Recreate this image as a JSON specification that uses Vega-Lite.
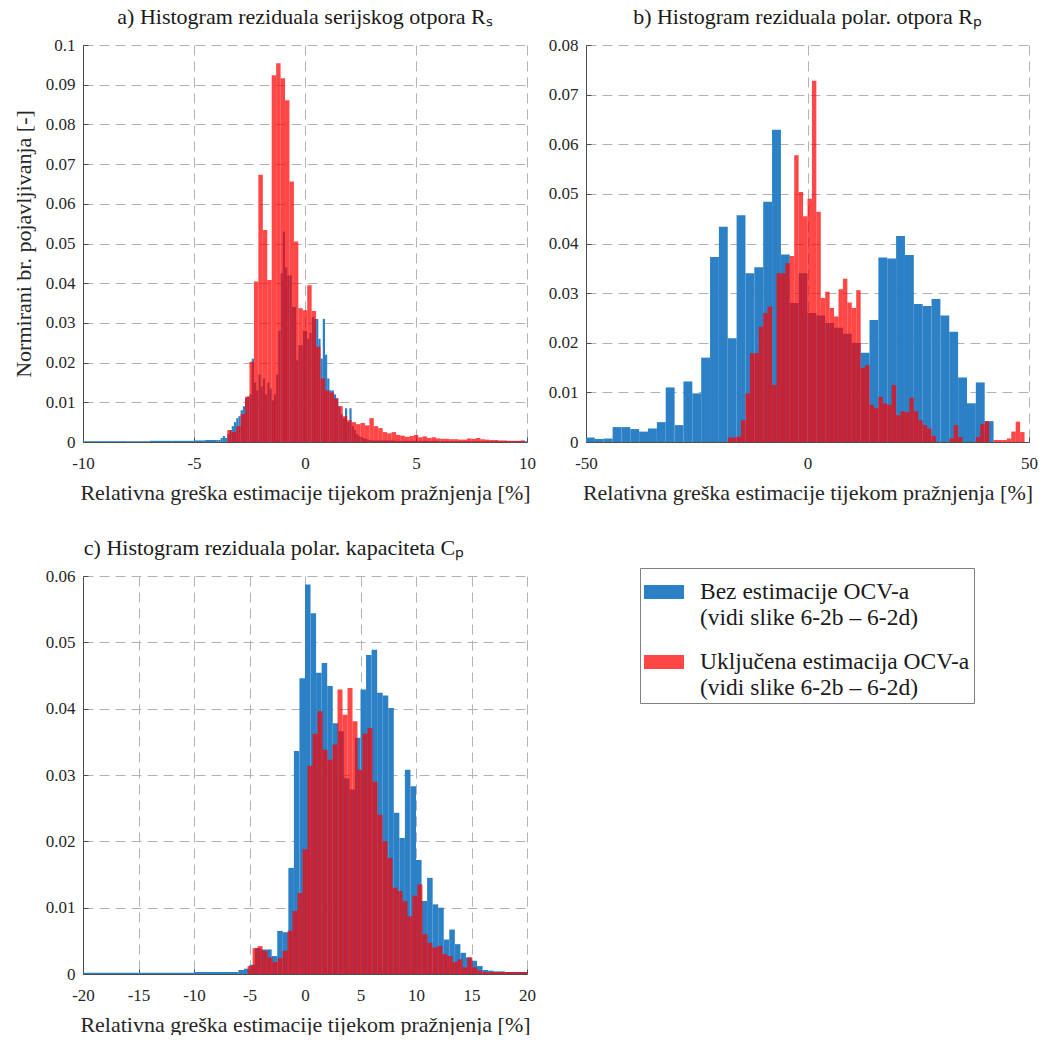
{
"$schema": "https://vega.github.io/schema/vega-lite/v6.json",
"background": "white",
"padding": {"left": 12, "top": 6, "right": 0, "bottom": 0},
"config": {
 "font": "Liberation Serif",
 "view": {"stroke": null},
 "rect": {"strokeWidth": 0},
 "axis": {"labelFont": "Liberation Serif", "labelFontSize": 17, "labelColor": "#262626", "titleFont": "Liberation Serif", "titleFontSize": 22, "titleFontWeight": "normal", "titleColor": "#262626", "domainColor": "#4d4d4d", "tickColor": "#4d4d4d", "tickSize": -5, "gridColor": "#b3b3b3", "gridDash": [10, 6], "gridWidth": 1, "labelFlush": false, "labelOverlap": false},
 "axisX": {"labelPadding": 18, "titlePadding": 11},
 "axisY": {"labelPadding": 13, "titlePadding": 10},
 "title": {"font": "Liberation Serif", "fontSize": 22, "fontWeight": "normal", "color": "#1a1a1a", "offset": 7},
 "legend": {"orient": "none", "legendX": 557, "legendY": 523, "strokeColor": "#808080", "fillColor": "white", "padding": 4, "symbolType": "M-1,-0.35H1V0.35H-1Z", "symbolSize": 1600, "symbolStrokeWidth": 0, "labelFont": "Liberation Serif", "labelFontSize": 23.5, "labelColor": "#1a1a1a", "labelLimit": 400, "labelOffset": 16, "rowPadding": 13}
},
"datasets": {
"h": [
{"p":"a","s":"B","x0":-10,"x1":-9,"y":0.0002},{"p":"a","s":"B","x0":-9,"x1":-8,"y":0.0002},{"p":"a","s":"B","x0":-8,"x1":-7,"y":0.0002},{"p":"a","s":"B","x0":-7,"x1":-6,"y":0.0003},{"p":"a","s":"B","x0":-6,"x1":-5,"y":0.0003},{"p":"a","s":"B","x0":-5,"x1":-4.5,"y":0.0004},{"p":"a","s":"B","x0":-4.5,"x1":-4,"y":0.0005},
{"p":"a","s":"B","x0":-4,"x1":-3.9,"y":0.0005},{"p":"a","s":"B","x0":-3.9,"x1":-3.8,"y":0.0005},{"p":"a","s":"B","x0":-3.8,"x1":-3.7,"y":0.001},{"p":"a","s":"B","x0":-3.7,"x1":-3.6,"y":0.0015},{"p":"a","s":"B","x0":-3.6,"x1":-3.5,"y":0.001},{"p":"a","s":"B","x0":-3.5,"x1":-3.4,"y":0.002},{"p":"a","s":"B","x0":-3.4,"x1":-3.3,"y":0.003},{"p":"a","s":"B","x0":-3.3,"x1":-3.2,"y":0.004},{"p":"a","s":"B","x0":-3.2,"x1":-3.1,"y":0.005},{"p":"a","s":"B","x0":-3.1,"x1":-3,"y":0.006},
{"p":"a","s":"B","x0":-3,"x1":-2.9,"y":0.0065},{"p":"a","s":"B","x0":-2.9,"x1":-2.8,"y":0.008},{"p":"a","s":"B","x0":-2.8,"x1":-2.7,"y":0.009},{"p":"a","s":"B","x0":-2.7,"x1":-2.6,"y":0.011},{"p":"a","s":"B","x0":-2.6,"x1":-2.5,"y":0.0115},{"p":"a","s":"B","x0":-2.5,"x1":-2.4,"y":0.012},{"p":"a","s":"B","x0":-2.4,"x1":-2.3,"y":0.021},{"p":"a","s":"B","x0":-2.3,"x1":-2.2,"y":0.015},{"p":"a","s":"B","x0":-2.2,"x1":-2.1,"y":0.013},{"p":"a","s":"B","x0":-2.1,"x1":-2,"y":0.017},
{"p":"a","s":"B","x0":-2,"x1":-1.9,"y":0.014},{"p":"a","s":"B","x0":-1.9,"x1":-1.8,"y":0.016},{"p":"a","s":"B","x0":-1.8,"x1":-1.7,"y":0.012},{"p":"a","s":"B","x0":-1.7,"x1":-1.6,"y":0.015},{"p":"a","s":"B","x0":-1.6,"x1":-1.5,"y":0.0135},{"p":"a","s":"B","x0":-1.5,"x1":-1.4,"y":0.0105},{"p":"a","s":"B","x0":-1.4,"x1":-1.3,"y":0.012},{"p":"a","s":"B","x0":-1.3,"x1":-1.2,"y":0.017},{"p":"a","s":"B","x0":-1.2,"x1":-1.1,"y":0.028},{"p":"a","s":"B","x0":-1.1,"x1":-1,"y":0.0425},
{"p":"a","s":"B","x0":-1,"x1":-0.9,"y":0.053},{"p":"a","s":"B","x0":-0.9,"x1":-0.8,"y":0.044},{"p":"a","s":"B","x0":-0.8,"x1":-0.7,"y":0.042},{"p":"a","s":"B","x0":-0.7,"x1":-0.6,"y":0.042},{"p":"a","s":"B","x0":-0.6,"x1":-0.5,"y":0.034},{"p":"a","s":"B","x0":-0.5,"x1":-0.4,"y":0.034},{"p":"a","s":"B","x0":-0.4,"x1":-0.3,"y":0.0206},{"p":"a","s":"B","x0":-0.3,"x1":-0.2,"y":0.0244},{"p":"a","s":"B","x0":-0.2,"x1":-0.1,"y":0.0244},{"p":"a","s":"B","x0":-0.1,"x1":0,"y":0.028},
{"p":"a","s":"B","x0":0,"x1":0.1,"y":0.028},{"p":"a","s":"B","x0":0.1,"x1":0.2,"y":0.026},{"p":"a","s":"B","x0":0.2,"x1":0.3,"y":0.0275},{"p":"a","s":"B","x0":0.3,"x1":0.4,"y":0.0315},{"p":"a","s":"B","x0":0.4,"x1":0.5,"y":0.031},{"p":"a","s":"B","x0":0.5,"x1":0.6,"y":0.031},{"p":"a","s":"B","x0":0.6,"x1":0.7,"y":0.026},{"p":"a","s":"B","x0":0.7,"x1":0.8,"y":0.021},{"p":"a","s":"B","x0":0.8,"x1":0.9,"y":0.031},{"p":"a","s":"B","x0":0.9,"x1":1,"y":0.022},
{"p":"a","s":"B","x0":1,"x1":1.1,"y":0.016},{"p":"a","s":"B","x0":1.1,"x1":1.2,"y":0.013},{"p":"a","s":"B","x0":1.2,"x1":1.3,"y":0.013},{"p":"a","s":"B","x0":1.3,"x1":1.4,"y":0.012},{"p":"a","s":"B","x0":1.4,"x1":1.5,"y":0.011},{"p":"a","s":"B","x0":1.5,"x1":1.6,"y":0.009},{"p":"a","s":"B","x0":1.6,"x1":1.7,"y":0.007},{"p":"a","s":"B","x0":1.7,"x1":1.8,"y":0.006},{"p":"a","s":"B","x0":1.8,"x1":1.9,"y":0.0085},{"p":"a","s":"B","x0":1.9,"x1":2,"y":0.005},
{"p":"a","s":"B","x0":2,"x1":2.1,"y":0.0085},{"p":"a","s":"B","x0":2.1,"x1":2.2,"y":0.004},{"p":"a","s":"B","x0":2.2,"x1":2.3,"y":0.003},{"p":"a","s":"B","x0":2.3,"x1":2.4,"y":0.002},{"p":"a","s":"B","x0":2.4,"x1":2.5,"y":0.0015},{"p":"a","s":"B","x0":2.5,"x1":2.6,"y":0.0012},{"p":"a","s":"B","x0":2.6,"x1":2.7,"y":0.001},{"p":"a","s":"B","x0":2.7,"x1":2.8,"y":0.0008},{"p":"a","s":"B","x0":2.8,"x1":2.9,"y":0.0006},{"p":"a","s":"B","x0":2.9,"x1":3,"y":0.0005},
{"p":"a","s":"B","x0":3,"x1":4,"y":0.0004},{"p":"a","s":"B","x0":4,"x1":5,"y":0.0003},{"p":"a","s":"B","x0":5,"x1":6,"y":0.0003},{"p":"a","s":"B","x0":6,"x1":8,"y":0.0002},{"p":"a","s":"B","x0":8,"x1":10,"y":0.0002},
{"p":"a","s":"R","x0":-3.5,"x1":-3.3,"y":0.003},{"p":"a","s":"R","x0":-3.3,"x1":-3.1,"y":0.0025},{"p":"a","s":"R","x0":-3.1,"x1":-2.9,"y":0.004},{"p":"a","s":"R","x0":-2.9,"x1":-2.7,"y":0.007},{"p":"a","s":"R","x0":-2.7,"x1":-2.5,"y":0.0114},{"p":"a","s":"R","x0":-2.5,"x1":-2.3,"y":0.0202},{"p":"a","s":"R","x0":-2.3,"x1":-2.1,"y":0.0404},{"p":"a","s":"R","x0":-2.1,"x1":-1.9,"y":0.0673},{"p":"a","s":"R","x0":-1.9,"x1":-1.7,"y":0.0534},{"p":"a","s":"R","x0":-1.7,"x1":-1.5,"y":0.0408},
{"p":"a","s":"R","x0":-1.5,"x1":-1.3,"y":0.0924},{"p":"a","s":"R","x0":-1.3,"x1":-1.1,"y":0.0954},{"p":"a","s":"R","x0":-1.1,"x1":-0.9,"y":0.0916},{"p":"a","s":"R","x0":-0.9,"x1":-0.7,"y":0.0861},{"p":"a","s":"R","x0":-0.7,"x1":-0.5,"y":0.0656},{"p":"a","s":"R","x0":-0.5,"x1":-0.3,"y":0.0505},{"p":"a","s":"R","x0":-0.3,"x1":-0.1,"y":0.0337},{"p":"a","s":"R","x0":-0.1,"x1":0.1,"y":0.0332},{"p":"a","s":"R","x0":0.1,"x1":0.3,"y":0.0395},{"p":"a","s":"R","x0":0.3,"x1":0.5,"y":0.033},
{"p":"a","s":"R","x0":0.5,"x1":0.7,"y":0.024},{"p":"a","s":"R","x0":0.7,"x1":0.9,"y":0.016},{"p":"a","s":"R","x0":0.9,"x1":1.1,"y":0.013},{"p":"a","s":"R","x0":1.1,"x1":1.3,"y":0.0125},{"p":"a","s":"R","x0":1.3,"x1":1.5,"y":0.011},{"p":"a","s":"R","x0":1.5,"x1":1.7,"y":0.009},{"p":"a","s":"R","x0":1.7,"x1":1.9,"y":0.0065},{"p":"a","s":"R","x0":1.9,"x1":2.1,"y":0.0055},{"p":"a","s":"R","x0":2.1,"x1":2.3,"y":0.005},{"p":"a","s":"R","x0":2.3,"x1":2.5,"y":0.0045},
{"p":"a","s":"R","x0":2.5,"x1":2.7,"y":0.0048},{"p":"a","s":"R","x0":2.7,"x1":2.9,"y":0.0042},{"p":"a","s":"R","x0":2.9,"x1":3.1,"y":0.006},{"p":"a","s":"R","x0":3.1,"x1":3.3,"y":0.004},{"p":"a","s":"R","x0":3.3,"x1":3.5,"y":0.0035},{"p":"a","s":"R","x0":3.5,"x1":3.7,"y":0.0025},{"p":"a","s":"R","x0":3.7,"x1":3.9,"y":0.0022},{"p":"a","s":"R","x0":3.9,"x1":4.1,"y":0.0025},{"p":"a","s":"R","x0":4.1,"x1":4.3,"y":0.0018},{"p":"a","s":"R","x0":4.3,"x1":4.5,"y":0.0016},
{"p":"a","s":"R","x0":4.5,"x1":4.7,"y":0.0013},{"p":"a","s":"R","x0":4.7,"x1":4.9,"y":0.0015},{"p":"a","s":"R","x0":4.9,"x1":5.1,"y":0.0018},{"p":"a","s":"R","x0":5.1,"x1":5.3,"y":0.0012},{"p":"a","s":"R","x0":5.3,"x1":5.5,"y":0.0014},{"p":"a","s":"R","x0":5.5,"x1":5.7,"y":0.001},{"p":"a","s":"R","x0":5.7,"x1":5.9,"y":0.0012},{"p":"a","s":"R","x0":5.9,"x1":6.1,"y":0.0009},{"p":"a","s":"R","x0":6.1,"x1":6.3,"y":0.0008},{"p":"a","s":"R","x0":6.3,"x1":6.5,"y":0.0008},
{"p":"a","s":"R","x0":6.5,"x1":6.7,"y":0.0007},{"p":"a","s":"R","x0":6.7,"x1":6.9,"y":0.0007},{"p":"a","s":"R","x0":6.9,"x1":7.1,"y":0.0006},{"p":"a","s":"R","x0":7.1,"x1":7.3,"y":0.0006},{"p":"a","s":"R","x0":7.3,"x1":7.5,"y":0.0009},{"p":"a","s":"R","x0":7.5,"x1":7.7,"y":0.0008},{"p":"a","s":"R","x0":7.7,"x1":7.9,"y":0.001},{"p":"a","s":"R","x0":7.9,"x1":8.1,"y":0.0007},{"p":"a","s":"R","x0":8.1,"x1":8.3,"y":0.0006},{"p":"a","s":"R","x0":8.3,"x1":8.5,"y":0.0005},
{"p":"a","s":"R","x0":8.5,"x1":8.7,"y":0.0005},{"p":"a","s":"R","x0":8.7,"x1":8.9,"y":0.0004},{"p":"a","s":"R","x0":8.9,"x1":9.1,"y":0.0004},{"p":"a","s":"R","x0":9.1,"x1":9.3,"y":0.0003},{"p":"a","s":"R","x0":9.3,"x1":9.5,"y":0.0003},{"p":"a","s":"R","x0":9.5,"x1":9.7,"y":0.0003},{"p":"a","s":"R","x0":9.7,"x1":9.9,"y":0.0004},
{"p":"b","s":"B","x0":-50,"x1":-48,"y":0.0009},{"p":"b","s":"B","x0":-48,"x1":-46,"y":0.0006},{"p":"b","s":"B","x0":-46,"x1":-44,"y":0.0007},{"p":"b","s":"B","x0":-44,"x1":-42,"y":0.003},{"p":"b","s":"B","x0":-42,"x1":-40,"y":0.003},{"p":"b","s":"B","x0":-40,"x1":-38,"y":0.0026},{"p":"b","s":"B","x0":-38,"x1":-36,"y":0.0021},{"p":"b","s":"B","x0":-36,"x1":-34,"y":0.0027},{"p":"b","s":"B","x0":-34,"x1":-32,"y":0.004},{"p":"b","s":"B","x0":-32,"x1":-30,"y":0.011},
{"p":"b","s":"B","x0":-30,"x1":-28,"y":0.0034},{"p":"b","s":"B","x0":-28,"x1":-26,"y":0.0122},{"p":"b","s":"B","x0":-26,"x1":-24,"y":0.0098},{"p":"b","s":"B","x0":-24,"x1":-22,"y":0.017},{"p":"b","s":"B","x0":-22,"x1":-20,"y":0.0373},{"p":"b","s":"B","x0":-20,"x1":-18,"y":0.0434},{"p":"b","s":"B","x0":-18,"x1":-16,"y":0.0209},{"p":"b","s":"B","x0":-16,"x1":-14,"y":0.0457},{"p":"b","s":"B","x0":-14,"x1":-12,"y":0.034},{"p":"b","s":"B","x0":-12,"x1":-10,"y":0.0352},
{"p":"b","s":"B","x0":-10,"x1":-8,"y":0.0484},{"p":"b","s":"B","x0":-8,"x1":-6,"y":0.0629},{"p":"b","s":"B","x0":-6,"x1":-4,"y":0.0378},{"p":"b","s":"B","x0":-4,"x1":-2,"y":0.028},{"p":"b","s":"B","x0":-2,"x1":0,"y":0.034},{"p":"b","s":"B","x0":0,"x1":2,"y":0.026},{"p":"b","s":"B","x0":2,"x1":4,"y":0.0255},{"p":"b","s":"B","x0":4,"x1":6,"y":0.024},{"p":"b","s":"B","x0":6,"x1":8,"y":0.023},{"p":"b","s":"B","x0":8,"x1":10,"y":0.0218},
{"p":"b","s":"B","x0":10,"x1":12,"y":0.02},{"p":"b","s":"B","x0":12,"x1":14,"y":0.018},{"p":"b","s":"B","x0":14,"x1":16,"y":0.0246},{"p":"b","s":"B","x0":16,"x1":18,"y":0.0372},{"p":"b","s":"B","x0":18,"x1":20,"y":0.037},{"p":"b","s":"B","x0":20,"x1":22,"y":0.0415},{"p":"b","s":"B","x0":22,"x1":24,"y":0.0377},{"p":"b","s":"B","x0":24,"x1":26,"y":0.0278},{"p":"b","s":"B","x0":26,"x1":28,"y":0.0274},{"p":"b","s":"B","x0":28,"x1":30,"y":0.0288},
{"p":"b","s":"B","x0":30,"x1":32,"y":0.0255},{"p":"b","s":"B","x0":32,"x1":34,"y":0.0222},{"p":"b","s":"B","x0":34,"x1":36,"y":0.013},{"p":"b","s":"B","x0":36,"x1":38,"y":0.0078},{"p":"b","s":"B","x0":38,"x1":40,"y":0.012},{"p":"b","s":"B","x0":40,"x1":42,"y":0.0042},
{"p":"b","s":"R","x0":-18,"x1":-17,"y":0.0009},{"p":"b","s":"R","x0":-17,"x1":-16,"y":0.0009},{"p":"b","s":"R","x0":-16,"x1":-15,"y":0.0011},{"p":"b","s":"R","x0":-15,"x1":-14,"y":0.0044},{"p":"b","s":"R","x0":-14,"x1":-13,"y":0.0098},{"p":"b","s":"R","x0":-13,"x1":-12,"y":0.0179},{"p":"b","s":"R","x0":-12,"x1":-11,"y":0.0179},{"p":"b","s":"R","x0":-11,"x1":-10,"y":0.0232},{"p":"b","s":"R","x0":-10,"x1":-9,"y":0.026},{"p":"b","s":"R","x0":-9,"x1":-8,"y":0.0273},
{"p":"b","s":"R","x0":-8,"x1":-7,"y":0.0115},{"p":"b","s":"R","x0":-7,"x1":-6,"y":0.034},{"p":"b","s":"R","x0":-6,"x1":-5,"y":0.034},{"p":"b","s":"R","x0":-5,"x1":-4,"y":0.036},{"p":"b","s":"R","x0":-4,"x1":-3,"y":0.0375},{"p":"b","s":"R","x0":-3,"x1":-2,"y":0.0578},{"p":"b","s":"R","x0":-2,"x1":-1,"y":0.0504},{"p":"b","s":"R","x0":-1,"x1":0,"y":0.0455},{"p":"b","s":"R","x0":0,"x1":1,"y":0.049},{"p":"b","s":"R","x0":1,"x1":2,"y":0.0728},
{"p":"b","s":"R","x0":2,"x1":3,"y":0.0464},{"p":"b","s":"R","x0":3,"x1":4,"y":0.029},{"p":"b","s":"R","x0":4,"x1":5,"y":0.0303},{"p":"b","s":"R","x0":5,"x1":6,"y":0.027},{"p":"b","s":"R","x0":6,"x1":7,"y":0.0253},{"p":"b","s":"R","x0":7,"x1":8,"y":0.0308},{"p":"b","s":"R","x0":8,"x1":9,"y":0.0329},{"p":"b","s":"R","x0":9,"x1":10,"y":0.0281},{"p":"b","s":"R","x0":10,"x1":11,"y":0.027},{"p":"b","s":"R","x0":11,"x1":12,"y":0.0306},
{"p":"b","s":"R","x0":12,"x1":13,"y":0.0149},{"p":"b","s":"R","x0":13,"x1":14,"y":0.0155},{"p":"b","s":"R","x0":14,"x1":15,"y":0.0075},{"p":"b","s":"R","x0":15,"x1":16,"y":0.0068},{"p":"b","s":"R","x0":16,"x1":17,"y":0.0091},{"p":"b","s":"R","x0":17,"x1":18,"y":0.0078},{"p":"b","s":"R","x0":18,"x1":19,"y":0.0075},{"p":"b","s":"R","x0":19,"x1":20,"y":0.0115},{"p":"b","s":"R","x0":20,"x1":21,"y":0.0054},{"p":"b","s":"R","x0":21,"x1":22,"y":0.0062},
{"p":"b","s":"R","x0":22,"x1":23,"y":0.006},{"p":"b","s":"R","x0":23,"x1":24,"y":0.0089},{"p":"b","s":"R","x0":24,"x1":25,"y":0.0062},{"p":"b","s":"R","x0":25,"x1":26,"y":0.0044},{"p":"b","s":"R","x0":26,"x1":27,"y":0.0034},{"p":"b","s":"R","x0":27,"x1":28,"y":0.0027},{"p":"b","s":"R","x0":28,"x1":29,"y":0.0012},{"p":"b","s":"R","x0":32,"x1":33,"y":0.0007},{"p":"b","s":"R","x0":33,"x1":34,"y":0.0034},{"p":"b","s":"R","x0":34,"x1":35,"y":0.001},
{"p":"b","s":"R","x0":38,"x1":39,"y":0.001},{"p":"b","s":"R","x0":39,"x1":40,"y":0.0036},{"p":"b","s":"R","x0":40,"x1":41,"y":0.0042},{"p":"b","s":"R","x0":42,"x1":43,"y":0.0004},{"p":"b","s":"R","x0":43,"x1":44,"y":0.0004},{"p":"b","s":"R","x0":44,"x1":45,"y":0.0004},{"p":"b","s":"R","x0":45,"x1":46,"y":0.0007},{"p":"b","s":"R","x0":46,"x1":47,"y":0.0021},{"p":"b","s":"R","x0":47,"x1":48,"y":0.0041},{"p":"b","s":"R","x0":48,"x1":49,"y":0.002},
{"p":"c","s":"B","x0":-20,"x1":-15,"y":0.0002},{"p":"c","s":"B","x0":-15,"x1":-10,"y":0.0002},{"p":"c","s":"B","x0":-10,"x1":-6,"y":0.0003},{"p":"c","s":"B","x0":-6,"x1":-5.5,"y":0.0006},{"p":"c","s":"B","x0":-5.5,"x1":-5,"y":0.0008},{"p":"c","s":"B","x0":-5,"x1":-4.5,"y":0.0014},{"p":"c","s":"B","x0":-4.5,"x1":-4,"y":0.0039},{"p":"c","s":"B","x0":-4,"x1":-3.5,"y":0.0037},{"p":"c","s":"B","x0":-3.5,"x1":-3,"y":0.0037},{"p":"c","s":"B","x0":-3,"x1":-2.5,"y":0.0027},
{"p":"c","s":"B","x0":-2.5,"x1":-2,"y":0.0065},{"p":"c","s":"B","x0":-2,"x1":-1.5,"y":0.0063},{"p":"c","s":"B","x0":-1.5,"x1":-1,"y":0.016},{"p":"c","s":"B","x0":-1,"x1":-0.5,"y":0.0336},{"p":"c","s":"B","x0":-0.5,"x1":0,"y":0.0446},{"p":"c","s":"B","x0":0,"x1":0.5,"y":0.0587},{"p":"c","s":"B","x0":0.5,"x1":1,"y":0.0544},{"p":"c","s":"B","x0":1,"x1":1.5,"y":0.0454},{"p":"c","s":"B","x0":1.5,"x1":2,"y":0.0469},{"p":"c","s":"B","x0":2,"x1":2.5,"y":0.0434},
{"p":"c","s":"B","x0":2.5,"x1":3,"y":0.0378},{"p":"c","s":"B","x0":3,"x1":3.5,"y":0.0366},{"p":"c","s":"B","x0":3.5,"x1":4,"y":0.0295},{"p":"c","s":"B","x0":4,"x1":4.5,"y":0.0278},{"p":"c","s":"B","x0":4.5,"x1":5,"y":0.0356},{"p":"c","s":"B","x0":5,"x1":5.5,"y":0.0429},{"p":"c","s":"B","x0":5.5,"x1":6,"y":0.0481},{"p":"c","s":"B","x0":6,"x1":6.5,"y":0.0489},{"p":"c","s":"B","x0":6.5,"x1":7,"y":0.0424},{"p":"c","s":"B","x0":7,"x1":7.5,"y":0.042},
{"p":"c","s":"B","x0":7.5,"x1":8,"y":0.0401},{"p":"c","s":"B","x0":8,"x1":8.5,"y":0.0243},{"p":"c","s":"B","x0":8.5,"x1":9,"y":0.0205},{"p":"c","s":"B","x0":9,"x1":9.5,"y":0.0308},{"p":"c","s":"B","x0":9.5,"x1":10,"y":0.0283},{"p":"c","s":"B","x0":10,"x1":10.5,"y":0.0172},{"p":"c","s":"B","x0":10.5,"x1":11,"y":0.011},{"p":"c","s":"B","x0":11,"x1":11.5,"y":0.0145},{"p":"c","s":"B","x0":11.5,"x1":12,"y":0.0105},{"p":"c","s":"B","x0":12,"x1":12.5,"y":0.01},
{"p":"c","s":"B","x0":12.5,"x1":13,"y":0.0052},{"p":"c","s":"B","x0":13,"x1":13.5,"y":0.0067},{"p":"c","s":"B","x0":13.5,"x1":14,"y":0.0045},{"p":"c","s":"B","x0":14,"x1":14.5,"y":0.0032},{"p":"c","s":"B","x0":14.5,"x1":15,"y":0.0025},{"p":"c","s":"B","x0":15,"x1":15.5,"y":0.002},{"p":"c","s":"B","x0":15.5,"x1":16,"y":0.0012},{"p":"c","s":"B","x0":16,"x1":16.5,"y":0.0006},{"p":"c","s":"B","x0":16.5,"x1":17,"y":0.0005},{"p":"c","s":"B","x0":17,"x1":18,"y":0.0004},{"p":"c","s":"B","x0":18,"x1":19,"y":0.0003},{"p":"c","s":"B","x0":19,"x1":20,"y":0.0003},
{"p":"c","s":"R","x0":-5.17,"x1":-4.72,"y":0.0012},{"p":"c","s":"R","x0":-4.72,"x1":-4.27,"y":0.0039},{"p":"c","s":"R","x0":-4.27,"x1":-3.82,"y":0.0042},{"p":"c","s":"R","x0":-3.82,"x1":-3.37,"y":0.0035},{"p":"c","s":"R","x0":-3.37,"x1":-2.92,"y":0.0025},{"p":"c","s":"R","x0":-2.92,"x1":-2.47,"y":0.0018},{"p":"c","s":"R","x0":-2.47,"x1":-2.02,"y":0.0024},{"p":"c","s":"R","x0":-2.02,"x1":-1.57,"y":0.0035},{"p":"c","s":"R","x0":-1.57,"x1":-1.12,"y":0.0065},{"p":"c","s":"R","x0":-1.12,"x1":-0.67,"y":0.0095},
{"p":"c","s":"R","x0":-0.67,"x1":-0.22,"y":0.0122},{"p":"c","s":"R","x0":-0.22,"x1":0.23,"y":0.0188},{"p":"c","s":"R","x0":0.23,"x1":0.68,"y":0.0314},{"p":"c","s":"R","x0":0.68,"x1":1.13,"y":0.0362},{"p":"c","s":"R","x0":1.13,"x1":1.58,"y":0.0396},{"p":"c","s":"R","x0":1.58,"x1":2.03,"y":0.0338},{"p":"c","s":"R","x0":2.03,"x1":2.48,"y":0.0323},{"p":"c","s":"R","x0":2.48,"x1":2.93,"y":0.0346},{"p":"c","s":"R","x0":2.93,"x1":3.38,"y":0.0429},{"p":"c","s":"R","x0":3.38,"x1":3.83,"y":0.0391},
{"p":"c","s":"R","x0":3.83,"x1":4.28,"y":0.0431},{"p":"c","s":"R","x0":4.28,"x1":4.73,"y":0.0381},{"p":"c","s":"R","x0":4.73,"x1":5.18,"y":0.0308},{"p":"c","s":"R","x0":5.18,"x1":5.63,"y":0.0362},{"p":"c","s":"R","x0":5.63,"x1":6.08,"y":0.0371},{"p":"c","s":"R","x0":6.08,"x1":6.53,"y":0.029},{"p":"c","s":"R","x0":6.53,"x1":6.98,"y":0.024},{"p":"c","s":"R","x0":6.98,"x1":7.43,"y":0.02},{"p":"c","s":"R","x0":7.43,"x1":7.88,"y":0.0175},{"p":"c","s":"R","x0":7.88,"x1":8.33,"y":0.013},
{"p":"c","s":"R","x0":8.33,"x1":8.78,"y":0.0125},{"p":"c","s":"R","x0":8.78,"x1":9.23,"y":0.011},{"p":"c","s":"R","x0":9.23,"x1":9.68,"y":0.0087},{"p":"c","s":"R","x0":9.68,"x1":10.13,"y":0.0118},{"p":"c","s":"R","x0":10.13,"x1":10.58,"y":0.0135},{"p":"c","s":"R","x0":10.58,"x1":11.03,"y":0.006},{"p":"c","s":"R","x0":11.03,"x1":11.48,"y":0.0047},{"p":"c","s":"R","x0":11.48,"x1":11.93,"y":0.004},{"p":"c","s":"R","x0":11.93,"x1":12.38,"y":0.0042},{"p":"c","s":"R","x0":12.38,"x1":12.83,"y":0.003},
{"p":"c","s":"R","x0":12.83,"x1":13.28,"y":0.0027},{"p":"c","s":"R","x0":13.28,"x1":13.73,"y":0.0018},{"p":"c","s":"R","x0":13.73,"x1":14.18,"y":0.0022},{"p":"c","s":"R","x0":14.18,"x1":14.63,"y":0.001},{"p":"c","s":"R","x0":14.63,"x1":15.08,"y":0.0025},{"p":"c","s":"R","x0":15.08,"x1":15.53,"y":0.001},{"p":"c","s":"R","x0":15.53,"x1":15.98,"y":0.0005},{"p":"c","s":"R","x0":15.98,"x1":18,"y":0.0003},{"p":"c","s":"R","x0":18,"x1":20,"y":0.0003}
]
},
"bounds": "flush",
"columns": 2,
"spacing": {"column": 59, "row": 134},
"concat": [
{
 "width": 444, "height": 397,
 "title": {"text": "a) Histogram reziduala serijskog otpora Rₛ"},
 "data": {"name": "h"},
 "transform": [{"filter": "datum.p == 'a'"}],
 "mark": {"type": "rect", "clip": true},
 "encoding": {
  "x": {"field": "x0", "type": "quantitative", "scale": {"domain": [-10, 10], "nice": false, "zero": false}, "axis": {"values": [-10, -5, 0, 5, 10], "labelExpr": "datum.value < 0 ? '-' + abs(datum.value) : '' + datum.value", "title": "Relativna greška estimacije tijekom pražnjenja [%]"}},
  "x2": {"field": "x1"},
  "y": {"field": "y", "type": "quantitative", "stack": null, "scale": {"domain": [0, 0.1], "nice": false}, "axis": {"values": [0, 0.01, 0.02, 0.03, 0.04, 0.05, 0.06, 0.07, 0.08, 0.09, 0.1], "format": "~g", "title": "Normirani br. pojavljivanja [-]"}},
  "y2": {"datum": 0},
  "color": {"field": "s", "type": "nominal", "scale": {"domain": ["B", "R"], "range": ["#2b80c6", "#ff0000"]}, "legend": {"title": null, "labelExpr": "datum.value == 'B' ? ['Bez estimacije OCV-a', '(vidi slike 6-2b – 6-2d)'] : ['Uključena estimacija OCV-a', '(vidi slike 6-2b – 6-2d)']"}},
  "opacity": {"field": "s", "type": "nominal", "scale": {"domain": ["B", "R"], "range": [1, 0.72]}, "legend": {"title": null, "labelExpr": "datum.value == 'B' ? ['Bez estimacije OCV-a', '(vidi slike 6-2b – 6-2d)'] : ['Uključena estimacija OCV-a', '(vidi slike 6-2b – 6-2d)']"}}
 }
},
{
 "width": 443, "height": 397,
 "title": {"text": "b) Histogram reziduala polar. otpora Rₚ"},
 "data": {"name": "h"},
 "transform": [{"filter": "datum.p == 'b'"}],
 "mark": {"type": "rect", "clip": true},
 "encoding": {
  "x": {"field": "x0", "type": "quantitative", "scale": {"domain": [-50, 50], "nice": false, "zero": false}, "axis": {"values": [-50, 0, 50], "labelExpr": "datum.value < 0 ? '-' + abs(datum.value) : '' + datum.value", "title": "Relativna greška estimacije tijekom pražnjenja [%]"}},
  "x2": {"field": "x1"},
  "y": {"field": "y", "type": "quantitative", "stack": null, "scale": {"domain": [0, 0.08], "nice": false}, "axis": {"values": [0, 0.01, 0.02, 0.03, 0.04, 0.05, 0.06, 0.07, 0.08], "format": "~g", "title": null}},
  "y2": {"datum": 0},
  "color": {"field": "s", "type": "nominal", "scale": {"domain": ["B", "R"], "range": ["#2b80c6", "#ff0000"]}, "legend": {"title": null, "labelExpr": "datum.value == 'B' ? ['Bez estimacije OCV-a', '(vidi slike 6-2b – 6-2d)'] : ['Uključena estimacija OCV-a', '(vidi slike 6-2b – 6-2d)']"}},
  "opacity": {"field": "s", "type": "nominal", "scale": {"domain": ["B", "R"], "range": [1, 0.72]}, "legend": {"title": null, "labelExpr": "datum.value == 'B' ? ['Bez estimacije OCV-a', '(vidi slike 6-2b – 6-2d)'] : ['Uključena estimacija OCV-a', '(vidi slike 6-2b – 6-2d)']"}}
 }
},
{
 "width": 444, "height": 398,
 "title": {"text": "c) Histogram reziduala polar. kapaciteta Cₚ", "dx": -31},
 "data": {"name": "h"},
 "transform": [{"filter": "datum.p == 'c'"}],
 "mark": {"type": "rect", "clip": true},
 "encoding": {
  "x": {"field": "x0", "type": "quantitative", "scale": {"domain": [-20, 20], "nice": false, "zero": false}, "axis": {"values": [-20, -15, -10, -5, 0, 5, 10, 15, 20], "labelExpr": "datum.value < 0 ? '-' + abs(datum.value) : '' + datum.value", "title": "Relativna greška estimacije tijekom pražnjenja [%]"}},
  "x2": {"field": "x1"},
  "y": {"field": "y", "type": "quantitative", "stack": null, "scale": {"domain": [0, 0.06], "nice": false}, "axis": {"values": [0, 0.01, 0.02, 0.03, 0.04, 0.05, 0.06], "format": "~g", "title": null}},
  "y2": {"datum": 0},
  "color": {"field": "s", "type": "nominal", "scale": {"domain": ["B", "R"], "range": ["#2b80c6", "#ff0000"]}, "legend": {"title": null, "labelExpr": "datum.value == 'B' ? ['Bez estimacije OCV-a', '(vidi slike 6-2b – 6-2d)'] : ['Uključena estimacija OCV-a', '(vidi slike 6-2b – 6-2d)']"}},
  "opacity": {"field": "s", "type": "nominal", "scale": {"domain": ["B", "R"], "range": [1, 0.72]}, "legend": {"title": null, "labelExpr": "datum.value == 'B' ? ['Bez estimacije OCV-a', '(vidi slike 6-2b – 6-2d)'] : ['Uključena estimacija OCV-a', '(vidi slike 6-2b – 6-2d)']", "encoding": {"labels": {"update": {"dy": {"value": 13}}}}}}
 }
}
]
}
